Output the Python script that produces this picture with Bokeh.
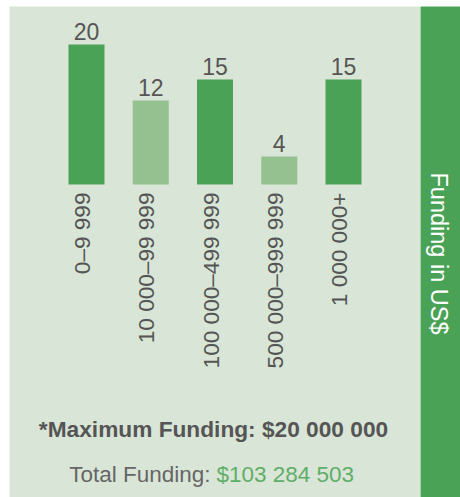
import math
from bokeh.plotting import figure
from bokeh.layouts import row
from bokeh.models import FactorRange, Range1d, Label, ColumnDataSource
from bokeh.core.properties import value
from bokeh.embed import file_html
from bokeh.resources import INLINE

# ---- data ----
categories = ["0\u20139 999", "10 000\u201399 999", "100 000\u2013499 999",
              "500 000\u2013999 999", "1 000 000+"]
counts = [20, 12, 15, 4, 15]
value_labels = ["20", "12", "15", "4", "15"]
side_title = "Funding in US$"
max_note = "*Maximum Funding: $20 000 000"
total_label = "Total Funding:"
total_value = "$103 284 503"

# ---- styles ----
DARK = "#4aa257"
LIGHT = "#95c08f"
BG = "#d9e5d6"
TEXT = "#555555"
bar_colors = [DARK, LIGHT, DARK, LIGHT, DARK]
FONT = "Liberation Sans"

# ---- layout (page pixels) ----
W, H = 460, 497
LEFT, TOP = 9, 6
MAIN_W = 420
SIDE_W = W - MAIN_W
FRAME_W = MAIN_W - LEFT
FRAME_H = H - TOP
PX_PER_UNIT = 7.0
BASE_PY = 184.0                 # page row of the bar baseline
PAD = 0.6984                    # factor padding (synthetic units)
UNIT_PX = FRAME_W / (len(categories) + 2 * PAD)
SHIFT = 8                       # compensation for rendered text baseline

def y_of(py):
    return (BASE_PY - py) / PX_PER_UNIT

def x_of(px):
    return (px - LEFT) / UNIT_PX - PAD

p = figure(width=MAIN_W, height=H, output_backend="svg", toolbar_location=None,
           x_range=FactorRange(*categories, range_padding=PAD,
                               range_padding_units="absolute"),
           y_range=Range1d(y_of(H), y_of(TOP)),
           x_axis_location=None, y_axis_location=None,
           min_border_left=LEFT, min_border_top=TOP, min_border_bottom=0,
           min_border_right=0)
p.grid.visible = False
p.outline_line_color = None
p.background_fill_color = BG
p.border_fill_color = "white"

src = ColumnDataSource(dict(cat=categories, n=counts, lab=value_labels,
                            color=bar_colors, zero=[0] * len(counts)))

p.vbar(x="cat", top="n", bottom=0, width=36 / UNIT_PX, color="color",
       line_color=None, source=src)

p.text(x="cat", y="n", text="lab", source=src, text_align="center",
       text_baseline="alphabetic", y_offset=-5 - SHIFT, text_color=TEXT,
       text_font=value(FONT), text_font_size="23px")

p.text(x="cat", y="zero", text="cat", source=src, angle=math.pi / 2,
       text_align="right", text_baseline="alphabetic", x_offset=5 - SHIFT - 1,
       y_offset=8, text_color=TEXT, text_font=value(FONT),
       text_font_size="22.6px")

p.add_layout(Label(x=x_of(213), y=y_of(436 - SHIFT), text=max_note,
                   text_align="center", text_baseline="alphabetic",
                   text_color=TEXT, text_font=FONT, text_font_size="22.7px",
                   text_font_style="bold"))
p.add_layout(Label(x=x_of(210), y=y_of(482 - SHIFT), text=total_label,
                   text_align="right", text_baseline="alphabetic",
                   text_color="#666666", text_font=FONT, text_font_size="22.5px"))
p.add_layout(Label(x=x_of(216), y=y_of(482 - SHIFT), text=total_value,
                   text_align="left", text_baseline="alphabetic",
                   text_color="#5fae68", text_font=FONT, text_font_size="22.5px"))

side = figure(width=SIDE_W, height=H, output_backend="svg", toolbar_location=None,
              x_range=Range1d(0, SIDE_W), y_range=Range1d(0, FRAME_H),
              x_axis_location=None, y_axis_location=None,
              min_border_left=0, min_border_top=TOP, min_border_bottom=0,
              min_border_right=0)
side.grid.visible = False
side.outline_line_color = None
side.background_fill_color = DARK
side.border_fill_color = "white"
side.add_layout(Label(x=18, y=FRAME_H - (253 - TOP), text=side_title,
                      angle=-math.pi / 2, text_align="center",
                      text_baseline="middle", text_color="white",
                      text_font=FONT, text_font_size="23.5px"))

layout = row(p, side, spacing=0)
open("out.html", "w").write(file_html(layout, INLINE))
